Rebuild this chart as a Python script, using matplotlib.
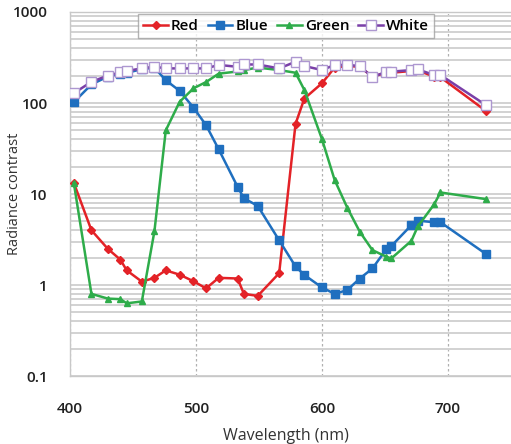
import matplotlib
matplotlib.use("Agg")
import matplotlib.pyplot as plt
from matplotlib.ticker import LogLocator, FixedLocator, NullFormatter

# Filter centre wavelengths (nm)
wavelength = [403, 417, 430, 440, 445, 457, 467, 476, 487, 498, 508, 518, 533, 538,
              549, 566, 579, 586, 600, 610, 620, 630, 640, 651, 655, 671, 676, 689,
              694, 730]

# Radiance contrast for each illumination colour
red = [13.3, 4.0, 2.5, 1.9, 1.45, 1.09, 1.2, 1.45, 1.3, 1.1, 0.92, 1.2, 1.18, 0.8,
       0.76, 1.35, 59, 112, 165, 245, 255, 250, 195, 215, 215, 225, 228, 195, 192, 82]
blue = [102, 160, 195, 210, 215, 235, 245, 178, 136, 89, 57, 31, 12, 9,
        7.4, 3.1, 1.6, 1.29, 0.94, 0.80, 0.88, 1.18, 1.52, 2.47, 2.68, 4.56, 5.1, 4.9,
        4.9, 2.2]
green = [13.3, 0.8, 0.71, 0.7, 0.63, 0.66, 3.9, 50, 103, 145, 170, 210, 222, 230,
         245, 230, 215, 139, 40, 14.3, 7.1, 3.85, 2.42, 2.05, 1.96, 3.07, 4.4, 7.7,
         10.4, 8.8]
white = [128, 171, 200, 217, 225, 240, 251, 240, 240, 240, 240, 262, 250, 265,
         265, 240, 284, 255, 230, 262, 262, 255, 192, 221, 221, 230, 234, 203, 203, 95]

x_ticks = [400, 500, 600, 700]
y_ticks = [0.1, 1, 10, 100, 1000]
y_tick_labels = ["0.1", "1", "10", "100", "1000"]

plt.rcParams["font.family"] = ["Open Sans", "DejaVu Sans"]

fig = plt.figure(figsize=(5.11, 4.44), dpi=100)
ax = fig.add_axes([0.137, 0.153, 0.863, 0.82])

ax.set_yscale("log")
ax.set_xlim(400, 750)
ax.set_ylim(0.1, 1000)

# horizontal grid on every decade subdivision
ax.yaxis.set_major_locator(FixedLocator(y_ticks))
ax.yaxis.set_minor_locator(LogLocator(base=10, subs=range(2, 10)))
ax.yaxis.set_minor_formatter(NullFormatter())
ax.grid(True, which="both", axis="y", color="#d2d2d2", linewidth=1.4)
ax.xaxis.set_major_locator(FixedLocator(x_ticks))
ax.grid(True, which="major", axis="x", color="#b0b0b0", linewidth=0.9,
        linestyle=(0, (2, 2)))
ax.set_axisbelow(True)

ax.set_xticks(x_ticks)
ax.set_xticklabels([str(t) for t in x_ticks])
ax.set_yticks(y_ticks)
ax.set_yticklabels(y_tick_labels)
ax.tick_params(axis="both", which="both", length=0, labelsize=11,
               labelcolor="#222222")
ax.tick_params(axis="x", pad=19)
ax.tick_params(axis="y", pad=16)
for lab in ax.get_xticklabels() + ax.get_yticklabels():
    lab.set_fontweight("semibold")

for side in ("top", "left", "bottom", "right"):
    ax.spines[side].set_color("#c8c8c8")
    ax.spines[side].set_linewidth(1.0)
ax.spines["right"].set_visible(False)

ax.plot(wavelength, red, color="#e32227", lw=1.8, marker="D", ms=4,
        label="Red", zorder=3)
ax.plot(wavelength, blue, color="#1f6fbf", lw=1.8, marker="s", ms=6,
        label="Blue", zorder=4)
ax.plot(wavelength, green, color="#2eac4a", lw=1.8, marker="^", ms=5,
        label="Green", zorder=5)
ax.plot(wavelength, white, color="#7a3fa8", lw=1.8, marker="s", ms=6.5,
        markerfacecolor="white", markeredgecolor="#ad97d0", markeredgewidth=1.0,
        label="White", zorder=6)

ax.set_xlabel("Wavelength (nm)", fontsize=11.5, color="#333333",
              va="center")
ax.xaxis.set_label_coords(0.49, -0.165)
ax.set_ylabel("Radiance contrast", fontsize=10.5, color="#333333",
              va="center")
ax.yaxis.set_label_coords(-0.125, 0.5)

leg = ax.legend(loc="upper center", bbox_to_anchor=(0.49, 1.0), ncol=4,
                frameon=True, fancybox=False, borderaxespad=0.1,
                handlelength=1.6, handletextpad=0.2, columnspacing=0.6,
                borderpad=0.35, prop={"size": 11, "weight": "semibold"})
leg.get_frame().set_edgecolor("#a0a0a0")
leg.get_frame().set_linewidth(1.0)

fig.savefig("out.png", dpi=100)
